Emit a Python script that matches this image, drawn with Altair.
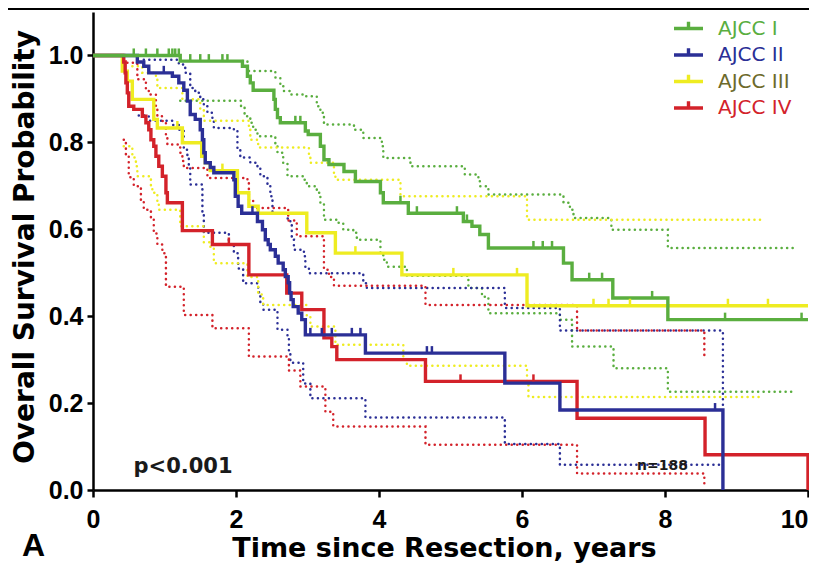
import altair as alt
import pandas as pd

groups = ["AJCC I", "AJCC II", "AJCC III", "AJCC IV"]
line_colors = ["#5aae3f", "#2b2f96", "#eeec21", "#d3222a"]
label_colors = ["#5aae3f", "#2b2f96", "#6d6a2b", "#d3222a"]

# Kaplan-Meier estimates (time in years, survival), step points
km_I = [(0, 1.0), (1.22, 0.987), (2.09, 0.975), (2.16, 0.952), (2.20, 0.937), (2.24, 0.920),
        (2.53, 0.899), (2.55, 0.876), (2.58, 0.857), (2.62, 0.845), (2.97, 0.826), (3.01, 0.818),
        (3.18, 0.791), (3.23, 0.760), (3.30, 0.749), (3.51, 0.733), (3.67, 0.710), (4.02, 0.684),
        (4.06, 0.661), (4.41, 0.637), (5.18, 0.618), (5.30, 0.607), (5.41, 0.588), (5.53, 0.557),
        (6.58, 0.522), (6.70, 0.484), (7.27, 0.442), (8.04, 0.392), (10.0, 0.392)]
km_II = [(0, 1.0), (0.62, 0.985), (0.71, 0.975), (0.78, 0.960), (1.11, 0.952), (1.20, 0.937),
         (1.27, 0.920), (1.32, 0.895), (1.36, 0.864), (1.43, 0.853), (1.50, 0.829), (1.53, 0.806),
         (1.55, 0.776), (1.57, 0.753), (1.64, 0.742), (1.69, 0.730), (1.97, 0.714), (1.99, 0.676),
         (2.03, 0.653), (2.08, 0.637), (2.30, 0.618), (2.37, 0.599), (2.41, 0.576), (2.45, 0.565),
         (2.48, 0.553), (2.55, 0.538), (2.59, 0.522), (2.66, 0.507), (2.69, 0.491), (2.73, 0.477),
         (2.75, 0.454), (2.77, 0.438), (2.80, 0.422), (2.87, 0.407), (2.92, 0.392), (2.97, 0.357),
         (3.81, 0.315), (5.76, 0.246), (6.53, 0.184), (8.81, 0.0)]
km_III = [(0, 1.0), (0.41, 0.964), (0.48, 0.941), (0.55, 0.899), (0.85, 0.853), (0.90, 0.833),
          (1.25, 0.799), (1.52, 0.768), (1.57, 0.753), (1.64, 0.735), (2.02, 0.684), (2.18, 0.653),
          (2.31, 0.637), (2.99, 0.592), (3.39, 0.545), (4.32, 0.495), (6.07, 0.424), (10.0, 0.424)]
km_IV = [(0, 1.0), (0.43, 0.985), (0.45, 0.960), (0.46, 0.937), (0.48, 0.914), (0.50, 0.883),
         (0.57, 0.876), (0.69, 0.860), (0.74, 0.845), (0.78, 0.829), (0.81, 0.806), (0.85, 0.791),
         (0.88, 0.768), (0.92, 0.745), (0.97, 0.722), (1.02, 0.684), (1.04, 0.661), (1.25, 0.597),
         (1.67, 0.565), (2.18, 0.495), (2.71, 0.453), (2.92, 0.415), (3.23, 0.350), (3.34, 0.330),
         (3.41, 0.300), (4.65, 0.250), (6.77, 0.165), (8.56, 0.081), (10.0, 0.0)]

# 95% confidence bands (dotted)
ci_I_upper = [(2.09, 0.987), (2.16, 0.964), (2.55, 0.949), (2.62, 0.929), (2.67, 0.918), (2.76, 0.910),
              (2.95, 0.906), (3.13, 0.883), (3.18, 0.868), (3.23, 0.841), (3.65, 0.829), (3.78, 0.810),
              (4.04, 0.791), (4.06, 0.764), (4.44, 0.745), (5.20, 0.726), (5.39, 0.714), (5.41, 0.699),
              (5.53, 0.680), (6.58, 0.661), (6.67, 0.645), (6.72, 0.626), (7.25, 0.599), (8.04, 0.557),
              (9.84, 0.557)]
ci_I_lower = [(1.22, 0.896), (2.07, 0.883), (2.12, 0.860), (2.20, 0.845), (2.24, 0.829), (2.30, 0.814),
              (2.55, 0.791), (2.58, 0.776), (2.66, 0.753), (2.72, 0.722), (2.94, 0.714), (2.99, 0.699),
              (3.13, 0.684), (3.18, 0.661), (3.23, 0.622), (3.41, 0.615), (3.50, 0.599), (3.64, 0.592),
              (3.69, 0.576), (4.02, 0.545), (4.06, 0.530), (4.11, 0.514), (4.39, 0.493), (5.25, 0.465),
              (5.44, 0.445), (5.53, 0.415), (5.55, 0.407), (6.53, 0.392), (6.70, 0.330), (7.28, 0.280),
              (8.04, 0.226), (9.84, 0.226)]
ci_II_upper = [(0.71, 0.990), (1.20, 0.979), (1.29, 0.960), (1.36, 0.925), (1.43, 0.914), (1.50, 0.899),
               (1.55, 0.883), (1.60, 0.868), (1.67, 0.853), (1.69, 0.833), (1.97, 0.826), (2.02, 0.783),
               (2.06, 0.765), (2.20, 0.753), (2.30, 0.742), (2.34, 0.722), (2.44, 0.700), (2.48, 0.676),
               (2.51, 0.637), (2.72, 0.625), (2.76, 0.610), (2.78, 0.576), (2.81, 0.553), (2.95, 0.538),
               (2.97, 0.510), (3.02, 0.499), (3.78, 0.476), (3.83, 0.465), (5.76, 0.419), (6.53, 0.367),
               (8.81, 0.190)]
ci_II_lower = [(0.64, 0.862), (0.78, 0.850), (1.11, 0.840), (1.20, 0.829), (1.27, 0.783), (1.32, 0.765),
               (1.34, 0.742), (1.36, 0.703), (1.53, 0.640), (1.55, 0.592), (1.90, 0.565), (1.97, 0.545),
               (2.03, 0.510), (2.10, 0.476), (2.31, 0.455), (2.34, 0.431), (2.38, 0.415), (2.58, 0.369),
               (2.72, 0.350), (2.74, 0.316), (2.76, 0.293), (2.94, 0.245), (3.04, 0.211), (3.81, 0.167),
               (5.76, 0.106), (6.53, 0.058), (8.79, 0.058)]
ci_III_upper = [(0.55, 0.975), (0.69, 0.960), (0.88, 0.945), (0.90, 0.925), (1.25, 0.899), (1.50, 0.876),
                (1.55, 0.850), (2.18, 0.829), (2.20, 0.806), (2.31, 0.788), (3.02, 0.768), (3.04, 0.753),
                (3.37, 0.722), (3.39, 0.714), (4.30, 0.676), (6.07, 0.622), (9.37, 0.622)]
ci_III_lower = [(0.43, 0.791), (0.55, 0.765), (0.60, 0.745), (0.62, 0.722), (0.81, 0.699), (0.83, 0.684),
                (0.90, 0.661), (0.92, 0.645), (1.22, 0.607), (1.55, 0.570), (1.64, 0.560), (1.69, 0.522),
                (2.16, 0.490), (2.31, 0.450), (2.38, 0.426), (2.99, 0.400), (3.04, 0.376), (3.39, 0.334),
                (4.34, 0.300), (4.39, 0.286), (6.07, 0.250), (6.09, 0.214), (9.37, 0.214)]
ci_IV_upper = [(0.48, 0.983), (0.62, 0.945), (0.74, 0.922), (0.78, 0.910), (0.88, 0.879), (0.90, 0.860),
               (0.97, 0.849), (1.02, 0.814), (1.04, 0.795), (1.22, 0.776), (1.25, 0.757), (1.27, 0.741),
               (1.60, 0.718), (2.16, 0.707), (2.18, 0.668), (2.24, 0.649), (2.73, 0.620), (2.85, 0.584),
               (3.23, 0.507), (3.30, 0.490), (3.37, 0.470), (4.65, 0.426), (6.77, 0.367), (8.55, 0.300)]
ci_IV_lower = [(0.43, 0.806), (0.46, 0.772), (0.50, 0.720), (0.57, 0.699), (0.67, 0.668), (0.71, 0.645),
               (0.81, 0.626), (0.85, 0.590), (0.90, 0.565), (0.97, 0.545), (1.02, 0.468), (1.27, 0.403),
               (1.67, 0.372), (2.18, 0.307), (2.74, 0.275), (2.90, 0.238), (3.25, 0.180), (3.36, 0.146),
               (4.65, 0.104), (6.77, 0.038), (8.55, 0.015)]

# censored observations (time, survival)
cens_I = [(0.57, 1.0), (0.74, 1.0), (0.90, 1.0), (1.06, 1.0), (1.11, 1.0), (1.15, 1.0), (1.20, 1.0),
          (1.36, 0.987), (1.50, 0.987), (1.62, 0.987), (1.81, 0.987), (1.88, 0.987), (2.83, 0.845),
          (2.90, 0.845), (4.30, 0.661), (4.53, 0.637), (5.09, 0.637), (5.23, 0.618), (6.16, 0.557),
          (6.29, 0.557), (6.42, 0.557), (6.94, 0.484), (7.12, 0.484), (7.82, 0.442), (8.84, 0.392),
          (9.91, 0.392)]
cens_II = [(0.99, 0.960), (2.23, 0.637), (3.04, 0.357), (3.20, 0.357), (3.34, 0.357), (3.62, 0.357),
           (3.74, 0.357), (4.67, 0.315), (4.74, 0.315), (8.70, 0.184)]
cens_III = [(1.18, 0.833), (1.81, 0.735), (3.67, 0.545), (5.04, 0.495), (5.93, 0.495), (7.00, 0.424),
            (7.21, 0.424), (7.51, 0.424), (8.88, 0.424), (9.44, 0.424)]
cens_IV = [(1.90, 0.565), (5.14, 0.250), (6.16, 0.250)]

x_ticks = [0, 2, 4, 6, 8, 10]
y_ticks = [0.0, 0.2, 0.4, 0.6, 0.8, 1.0]

color_of = dict(zip(groups, line_colors))
km = dict(zip(groups, [km_I, km_II, km_III, km_IV]))
cis = {("AJCC I", "upper"): ci_I_upper, ("AJCC I", "lower"): ci_I_lower,
       ("AJCC II", "upper"): ci_II_upper, ("AJCC II", "lower"): ci_II_lower,
       ("AJCC III", "upper"): ci_III_upper, ("AJCC III", "lower"): ci_III_lower,
       ("AJCC IV", "upper"): ci_IV_upper, ("AJCC IV", "lower"): ci_IV_lower}
cens = dict(zip(groups, [cens_I, cens_II, cens_III, cens_IV]))

km_df = pd.DataFrame([{"group": g, "t": t, "s": s, "i": i}
                      for g, pts in km.items() for i, (t, s) in enumerate(pts)])
ci_df = pd.DataFrame([{"group": g, "key": g + b, "t": t, "s": s, "i": i}
                      for (g, b), pts in cis.items() for i, (t, s) in enumerate(pts)])
cens_df = pd.DataFrame([{"group": g, "t": t, "s": s} for g, pts in cens.items() for (t, s) in pts])

x_axis = alt.Axis(values=x_ticks, format="d", grid=False, title="Time since Resection, years",
                  titleFont="DejaVu Sans", titleFontSize=27, titleFontWeight="bold", titleColor="black",
                  titleX=351, titleY=66, titleAlign="center", titleBaseline="alphabetic",
                  labelFont="Liberation Sans", labelFontSize=25, labelFontWeight="bold", labelColor="black",
                  labelPadding=10, labelFlush=False,
                  labelAlign={"condition": {"test": "datum.value >= 10", "value": "right"}, "value": "center"},
                  tickSize=7, tickWidth=2.5, tickColor="black", domainWidth=2.5, domainColor="black")
y_axis = alt.Axis(values=y_ticks, format=".1f", grid=False, title="Overall Survival Probability",
                  titleFont="DejaVu Sans", titleFontSize=28, titleFontWeight="bold", titleColor="black",
                  titleAngle=270, titleX=-60, titleY=234.5, titleAlign="center", titleBaseline="alphabetic",
                  labelFont="Liberation Sans", labelFontSize=25, labelFontWeight="bold", labelColor="black",
                  labelPadding=4, tickSize=6, tickWidth=2.5, tickColor="black",
                  domainWidth=2.5, domainColor="black")

X = alt.X("t:Q", scale=alt.Scale(domain=[0, 10], nice=False, zero=False), axis=x_axis)
Y = alt.Y("s:Q", scale=alt.Scale(domain=[0, 1.1], nice=False, zero=False), axis=y_axis)
cscale = alt.Scale(domain=groups, range=line_colors)

label_expr = ("datum.value == 'AJCC I' ? '%s' : datum.value == 'AJCC II' ? '%s' : "
              "datum.value == 'AJCC III' ? '%s' : '%s'") % tuple(label_colors)
legend = alt.Legend(title=None, orient="none", direction="vertical", legendX=581, legendY=2,
                    symbolType="M-1.16,0H1.16M0,0V-0.55", symbolSize=625, symbolStrokeWidth=3.4,
                    labelFont="DejaVu Sans", labelFontSize=20, labelOffset=15, rowPadding=1.5,
                    padding=0, labelColor={"expr": label_expr})

# dotted confidence limits, one layer per group (constant colour, no legend)
ci_layers = [
    alt.Chart(ci_df).transform_filter(alt.datum.group == g)
    .mark_line(interpolate="step-after", strokeWidth=2.5, strokeDash=[0.1, 5.4],
               strokeCap="round", color=color_of[g])
    .encode(x=X, y=Y, detail="key:N", order="i:Q")
    for g in groups
]

# solid KM curves (z-order: III, IV, II, I on top)
solid_layers = [
    alt.Chart(km_df).transform_filter(alt.datum.group == g)
    .mark_line(interpolate="step-after", strokeWidth=3.4)
    .encode(x=X, y=Y, color=alt.Color("group:N", scale=cscale, legend=legend), order="i:Q")
    for g in ["AJCC III", "AJCC IV", "AJCC II", "AJCC I"]
]

tick_layers = [
    alt.Chart(cens_df).transform_filter(alt.datum.group == g)
    .mark_tick(orient="vertical", size=7, thickness=2.5, yOffset=-3.5, color=color_of[g], opacity=1)
    .encode(x=X, y=Y)
    for g in groups
]

p_text = alt.Chart(pd.DataFrame({"label": ["p<0.001"]})).mark_text(
    font="DejaVu Sans", fontSize=21, fontWeight="bold", align="left", baseline="alphabetic",
    color="#1a1a1a").encode(x=alt.value(40.5), y=alt.value(461), text="label:N")
n_text = alt.Chart(pd.DataFrame({"label": ["n=188"]})).mark_text(
    font="DejaVu Sans", fontSize=14, fontWeight="bold", align="left", baseline="alphabetic",
    color="#1a1a1a").encode(x=alt.value(544), y=alt.value(458), text="label:N")
a_text = alt.Chart(pd.DataFrame({"label": ["A"]})).mark_text(
    font="Liberation Sans", fontSize=32, fontWeight="bold", align="left", baseline="alphabetic",
    color="black").encode(x=alt.value(-71), y=alt.value(544), text="label:N")
top_rule = alt.Chart(pd.DataFrame({"k": [0]})).mark_rule(color="black", strokeWidth=3).encode(
    x=alt.value(-85), x2=alt.value(716), y=alt.value(-3.5))

chart = alt.layer(*ci_layers, *solid_layers, *tick_layers, p_text, n_text, a_text, top_rule).properties(
    width=715, height=478,
    padding={"left": 85, "top": 4, "right": 1, "bottom": 74},
    autosize=alt.AutoSizeParams(type="none"),
    background="white",
).configure_view(stroke=None)

chart.save("out.html", embed_options={"renderer": "svg", "actions": False})
